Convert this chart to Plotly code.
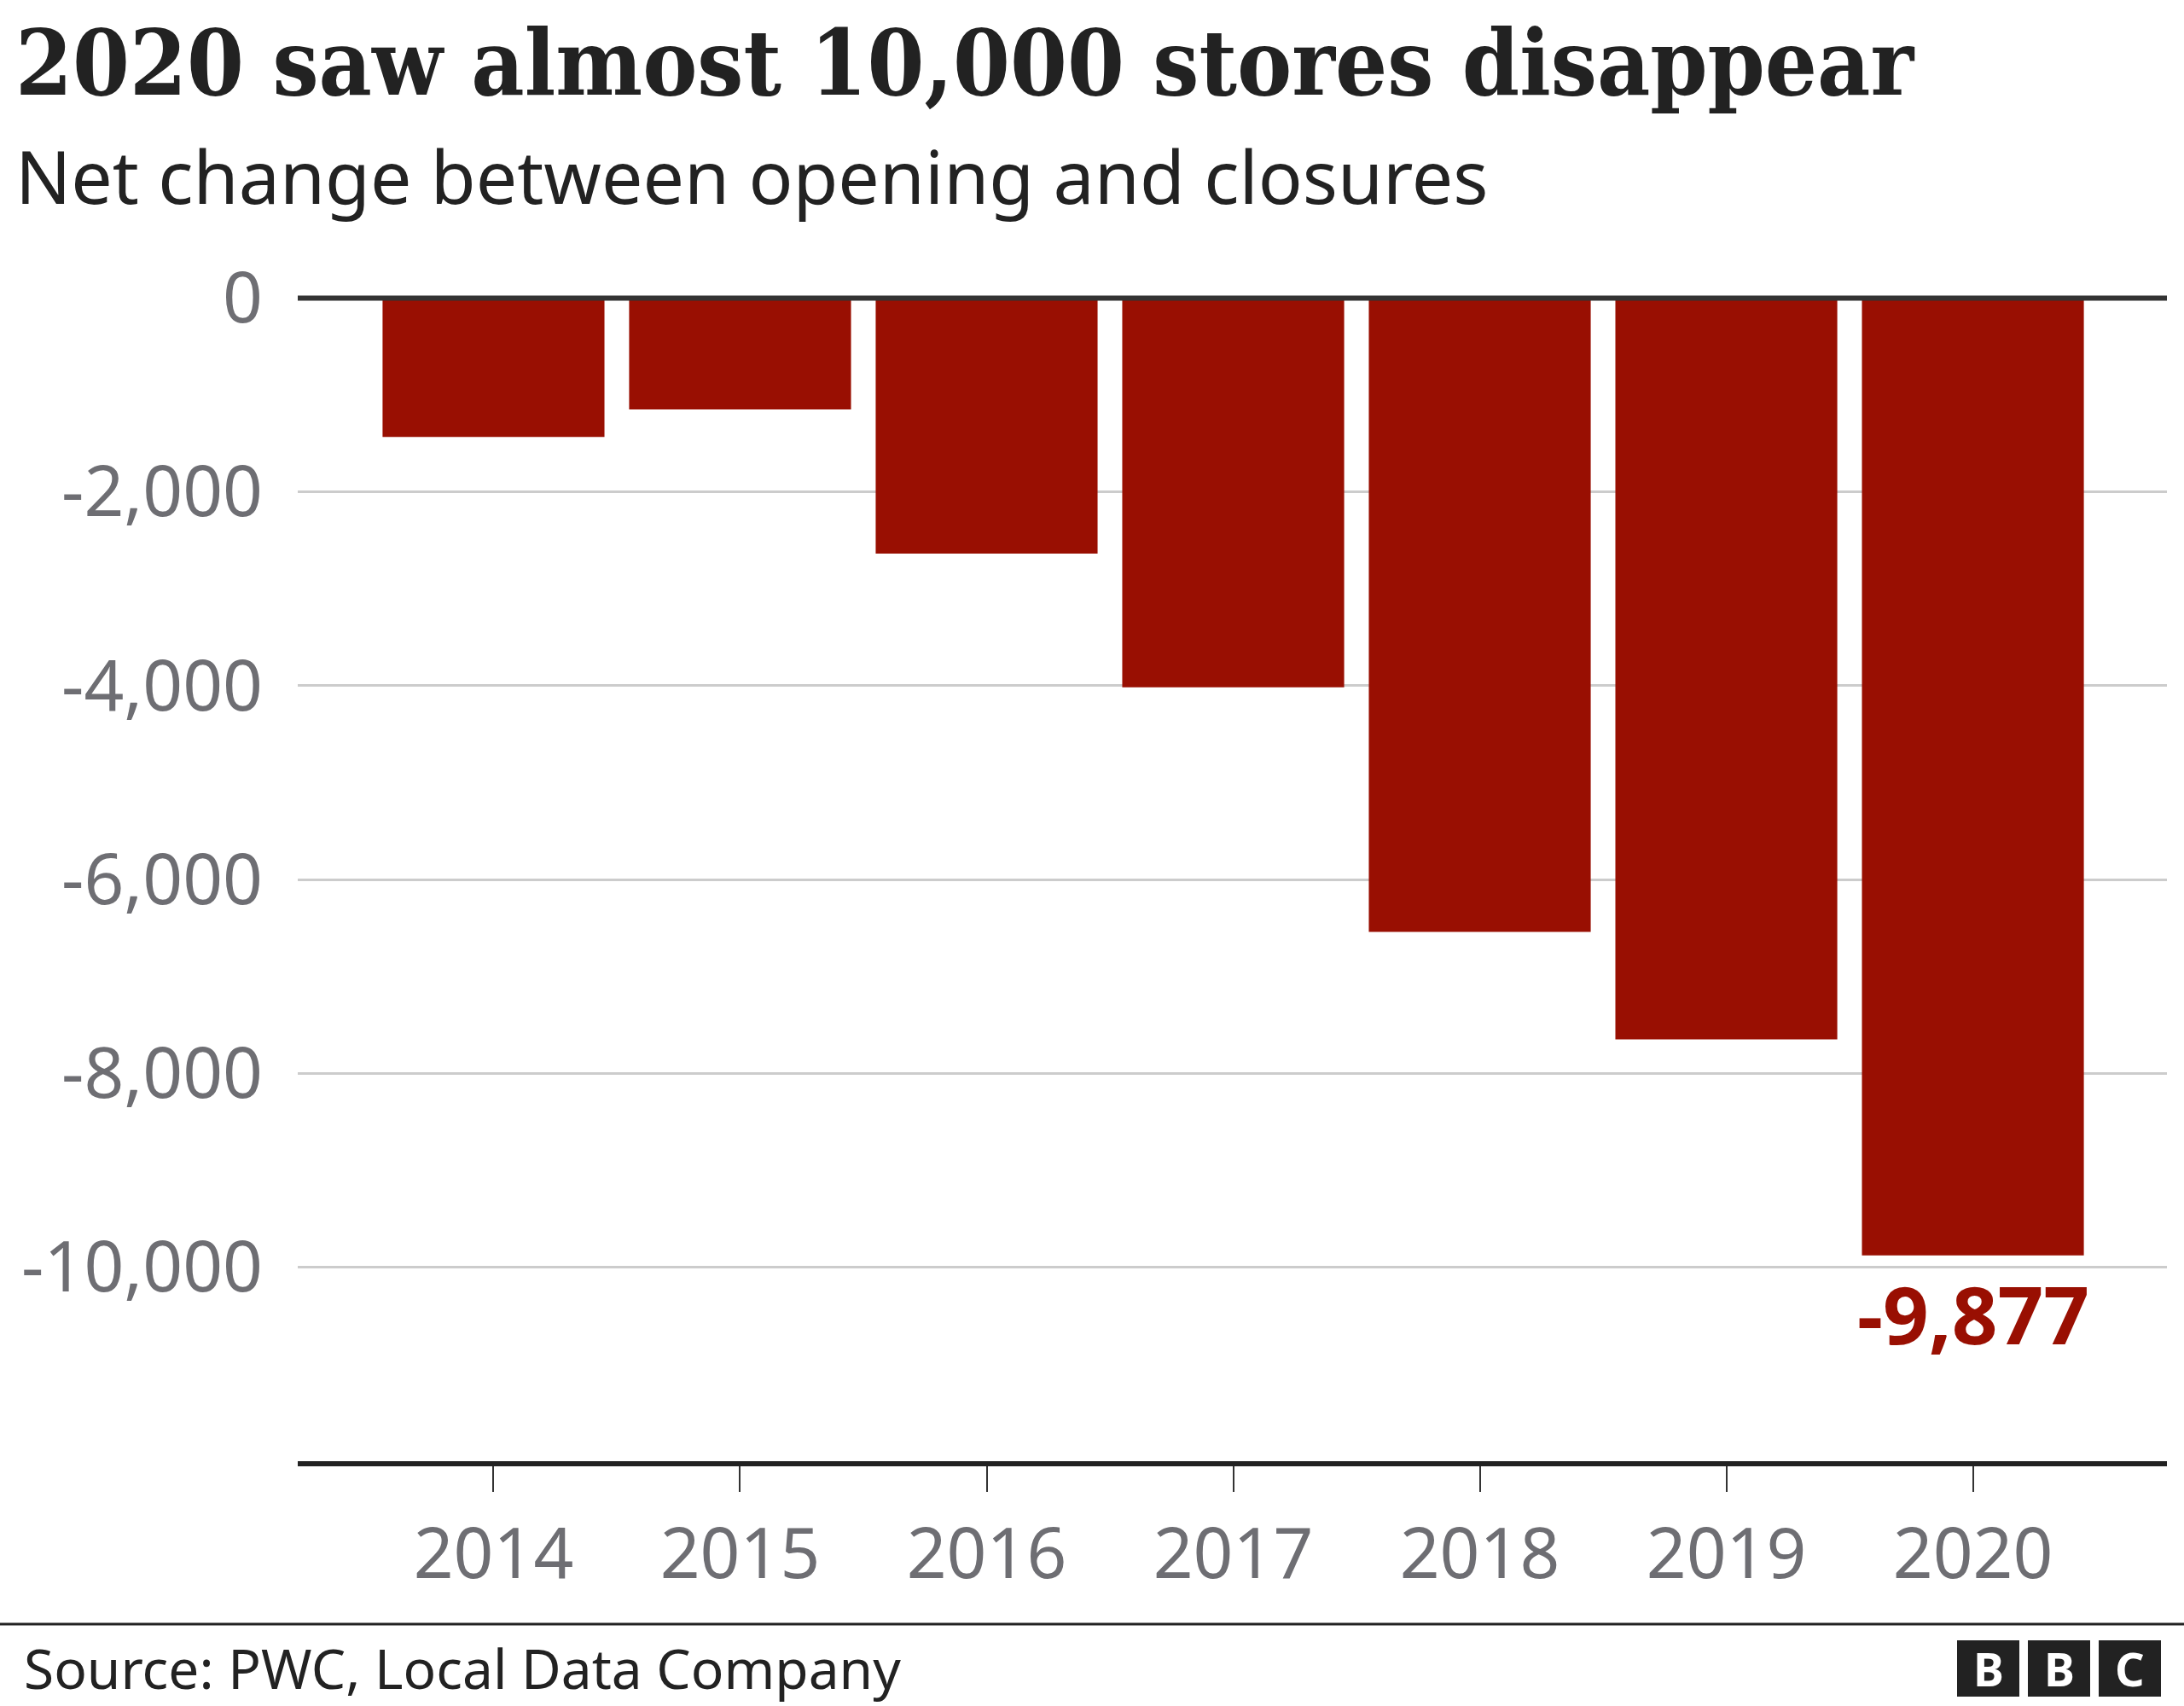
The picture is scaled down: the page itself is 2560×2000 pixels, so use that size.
import plotly.graph_objects as go

# ---- data ----
years = ["2014", "2015", "2016", "2017", "2018", "2019", "2020"]
net_change = [-1434, -1149, -2636, -4015, -6539, -7648, -9877]
y_ticks = [0, -2000, -4000, -6000, -8000, -10000]
y_tick_labels = [f"{v:,}" for v in y_ticks]

title_text = "2020 saw almost 10,000 stores disappear"
subtitle_text = "Net change between opening and closures"
source_text = "Source: PWC, Local Data Company"

# ---- layout constants ----
W, H = 2560, 2000
ML, MR, MT, MB = 349, 20, 346, 287
PW, PH = W - ML - MR, H - MT - MB

def px(x):
    return (x - ML) / PW

def py(y):
    return (H - MB - y) / PH

BAR = "#990F02"
GREY = "#6e6e73"
SANS = "Noto Sans, Open Sans, sans-serif"
SERIF = "DejaVu Serif Condensed, Liberation Serif, serif"

fig = go.Figure()
fig.add_trace(go.Bar(x=years, y=net_change, marker=dict(color=BAR, line=dict(width=0)),
                     hoverinfo="skip"))

fig.update_layout(
    width=W, height=H, autosize=False,
    margin=dict(l=ML, r=MR, t=MT, b=MB, pad=0),
    paper_bgcolor="white", plot_bgcolor="white",
    bargap=0.1, showlegend=False,
    xaxis=dict(type="category", range=[-0.794, 6.787], showgrid=False, zeroline=False,
               showline=True, linecolor="#222222", linewidth=6,
               ticks="outside", ticklen=30, tickwidth=2, tickcolor="#333333",
               tickfont=dict(family=SANS, size=82, color=GREY),
               ticklabelstandoff=3),
    yaxis=dict(range=[-12000, 30], tickvals=y_ticks, ticktext=y_tick_labels,
               showgrid=True, gridcolor="#cccccc", gridwidth=3, zeroline=False,
               showline=False, ticks="",
               tickfont=dict(family=SANS, size=82, color=GREY),
               ticklabelstandoff=40),
)

# zero line
fig.add_shape(type="line", xref="paper", x0=0, x1=1, yref="y", y0=0, y1=0,
              line=dict(color="#333333", width=6), layer="above")

# footer rule
fig.add_shape(type="line", xref="paper", x0=px(0), x1=px(W), yref="paper", y0=py(1904), y1=py(1904),
              line=dict(color="#222222", width=3), layer="above")

# title & subtitle
fig.add_annotation(text=f"<b>{title_text}</b>", xref="paper", yref="paper", x=px(16), y=py(73),
                   xanchor="left", yanchor="middle", showarrow=False,
                   font=dict(family=SERIF, size=107, color="#222222"))
fig.add_annotation(text=subtitle_text, xref="paper", yref="paper", x=px(16), y=py(205),
                   xanchor="left", yanchor="middle", showarrow=False,
                   font=dict(family=SANS, size=86, color="#222222"))

# value label for last bar
last = len(years) - 1
fig.add_annotation(text=f"<b>{net_change[last]:,}</b>", x=last, y=net_change[last],
                   xref="x", yref="y", yanchor="top", xanchor="center", yshift=-2,
                   showarrow=False, font=dict(family=SANS, size=94, color=BAR))

# source
fig.add_annotation(text=source_text, xref="paper", yref="paper", x=px(26), y=py(1955),
                   xanchor="left", yanchor="middle", showarrow=False,
                   font=dict(family=SANS, size=64, color="#222222"))

# BBC logo blocks
for i, letter in enumerate(["B", "B", "C"]):
    x0 = 2294 + i * 83
    x1 = x0 + 73
    fig.add_shape(type="rect", xref="paper", yref="paper", x0=px(x0), x1=px(x1),
                  y0=py(1989), y1=py(1923), fillcolor="#222222", line=dict(width=0),
                  layer="above")
    fig.add_annotation(text=f"<b>{letter}</b>", xref="paper", yref="paper",
                       x=px((x0 + x1) / 2), y=py(1956), xanchor="center", yanchor="middle",
                       showarrow=False, font=dict(family=SANS, size=54, color="white"))

fig.write_html("out.html", config={"displayModeBar": False},
               post_script="document.body.style.margin='0px';")
